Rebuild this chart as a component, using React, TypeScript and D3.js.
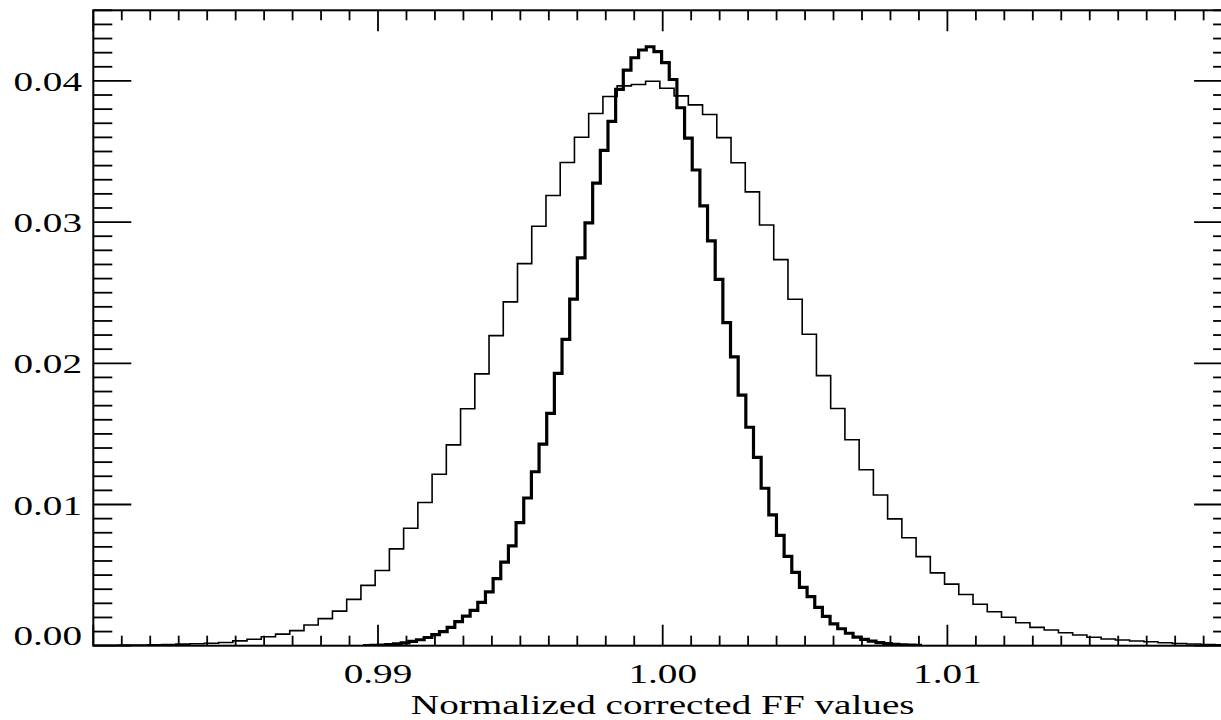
import React from "react";
import * as d3 from "d3";

// ---- Data ----
// Thin histogram: bin width 0.0005, first bin starts at 0.9799
const THIN_START = 0.9799;
const THIN_BIN = 0.0005;
const thinValues = [
  0.00002, 0.00003, 0.00004, 0.00005, 0.00007, 0.00009, 0.00011, 0.00014, 0.00017, 0.00023,
  0.00034, 0.00046, 0.00063, 0.00082, 0.00107, 0.00147, 0.00192, 0.00245, 0.00328, 0.00427,
  0.00533, 0.00686, 0.00832, 0.01014, 0.01214, 0.01422, 0.01678, 0.01925, 0.02196, 0.02435,
  0.02706, 0.02971, 0.03188, 0.03422, 0.03601, 0.03769, 0.03889, 0.03965, 0.03974, 0.03998,
  0.03948, 0.03894, 0.0383, 0.03762, 0.03598, 0.0342, 0.03214, 0.02979, 0.02734, 0.02454,
  0.02206, 0.01913, 0.0168, 0.01459, 0.01246, 0.01067, 0.00898, 0.00764, 0.00631, 0.00516,
  0.00436, 0.00363, 0.00294, 0.0024, 0.00202, 0.00163, 0.0013, 0.00111, 0.00092, 0.00076,
  0.0006, 0.00047, 0.0004, 0.00033, 0.00028, 0.00021, 0.00016, 0.00012, 0.00009, 0.00007,
  0.00005,
];

// Thick histogram: bin width ~0.000269, first bin starts at 0.98947
const THICK_START = 0.98947;
const THICK_BIN = 0.000269;
const thickValues = [
  0.00001, 0.00003, 0.00005, 0.00008, 0.00013, 0.0002, 0.0003, 0.00042, 0.00058, 0.00078,
  0.001, 0.0013, 0.0017, 0.0021, 0.0025, 0.00307, 0.00381, 0.00475, 0.00592, 0.00707,
  0.00872, 0.01046, 0.01232, 0.01427, 0.01646, 0.01929, 0.02169, 0.02454, 0.02747, 0.02995,
  0.03276, 0.03508, 0.03713, 0.0394, 0.04077, 0.04164, 0.04219, 0.04242, 0.04207, 0.04129,
  0.0401, 0.0381, 0.03595, 0.03369, 0.03115, 0.02867, 0.02595, 0.02288, 0.02046, 0.01774,
  0.01547, 0.01334, 0.01115, 0.00926, 0.00782, 0.00632, 0.0052, 0.00413, 0.00347, 0.00272,
  0.00208, 0.00155, 0.0012, 0.00088, 0.00061, 0.00045, 0.00032, 0.00022, 0.00015, 0.0001,
  0.00006, 0.00004, 0.00002,
];

const xDomain = [0.98, 1.02];
const yDomain = [0, 0.045];
const xTickLabels = [0.99, 1.0, 1.01];
const yTickLabels = [0.0, 0.01, 0.02, 0.03, 0.04];
const xTitle = "Normalized corrected FF values";

// ---- Layout ----
const W = 1221;
const H = 720;
const LEFT = 93.3;
const RIGHT = 1232.1;
const TOP = 10.3;
const BOTTOM = 645.7;
const FONT = "'Liberation Serif', 'Times New Roman', Times, serif";
const FS = 28;
const SX = 1.4;

function stepPath(start: number, bin: number, values: number[], x: any, y: any) {
  const pts: [number, number][] = values.map((v, i) => [start + i * bin, v]);
  pts.push([start + values.length * bin, values[values.length - 1]]);
  const line = d3
    .line<[number, number]>()
    .x((d) => x(d[0]))
    .y((d) => y(d[1]))
    .curve(d3.curveStepAfter);
  return line(pts) || "";
}

export default function App() {
  const x = d3.scaleLinear().domain(xDomain).range([LEFT, RIGHT]);
  const y = d3.scaleLinear().domain(yDomain).range([BOTTOM, TOP]);

  const xMinor = x.ticks(40);
  const yMinor = y.ticks(45);
  const isMajor = (v: number) => Math.abs(Math.round(v * 100) - v * 100) < 1e-6;

  const thinPath = stepPath(THIN_START, THIN_BIN, thinValues, x, y);
  const thickPath = stepPath(THICK_START, THICK_BIN, thickValues, x, y);

  const stroke = "#000";
  return (
    <svg
      width={W}
      height={H}
      style={{ position: "absolute", left: 0, top: 0, background: "#fff" }}
      xmlns="http://www.w3.org/2000/svg"
    >
      <rect x={0} y={0} width={W} height={H} fill="#fff" />
      <defs>
        <clipPath id="plotclip">
          <rect x={LEFT} y={TOP} width={RIGHT - LEFT} height={BOTTOM - TOP} />
        </clipPath>
      </defs>

      <g clipPath="url(#plotclip)" fill="none" strokeLinejoin="miter">
        <path d={thinPath} stroke={stroke} strokeWidth={1.6} />
        <path d={thickPath} stroke={stroke} strokeWidth={3.2} />
      </g>

      {/* Frame */}
      <rect
        x={LEFT}
        y={TOP}
        width={RIGHT - LEFT}
        height={BOTTOM - TOP}
        fill="none"
        stroke={stroke}
        strokeWidth={2}
      />

      {/* Ticks on all four sides */}
      <g stroke={stroke} strokeWidth={1.8}>
        {xMinor.map((v, i) => {
          const len = isMajor(v) ? 21 : 10;
          const px = x(v);
          return (
            <g key={"xt" + i}>
              <line x1={px} x2={px} y1={BOTTOM} y2={BOTTOM - len} />
              <line x1={px} x2={px} y1={TOP} y2={TOP + len} />
            </g>
          );
        })}
        {yMinor.map((v, i) => {
          const len = isMajor(v) ? 38 : 19;
          const py = y(v);
          return (
            <g key={"yt" + i}>
              <line x1={LEFT} x2={LEFT + len} y1={py} y2={py} />
              <line x1={RIGHT} x2={RIGHT - len} y1={py} y2={py} />
            </g>
          );
        })}
      </g>

      {/* Labels */}
      <g fontFamily={FONT} fontSize={FS} fill="#000">
        {xTickLabels.map((v, i) => (
          <text
            key={"xl" + i}
            transform={`translate(${x(v)},682.5) scale(${SX},1)`}
            textAnchor="middle"
          >
            {d3.format(".2f")(v)}
          </text>
        ))}
        {yTickLabels.map((v, i) => {
          const base = Math.min(y(v) + 10, BOTTOM - 0.5);
          return (
            <text
              key={"yl" + i}
              transform={`translate(82,${base}) scale(${SX},1)`}
              textAnchor="end"
            >
              {d3.format(".2f")(v)}
            </text>
          );
        })}
        <text
          transform={`translate(${(LEFT + RIGHT) / 2},713.8) scale(${SX},1)`}
          textAnchor="middle"
        >
          {xTitle}
        </text>
      </g>
    </svg>
  );
}
